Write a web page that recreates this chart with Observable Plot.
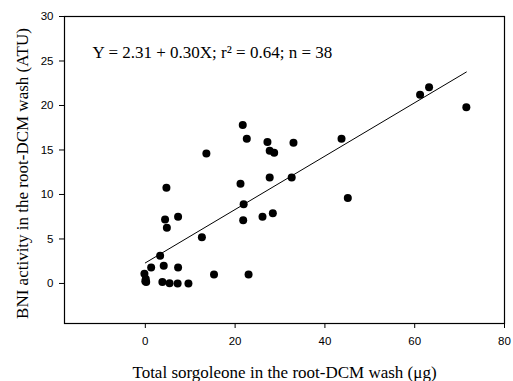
<!DOCTYPE html>
<html><head><meta charset="utf-8">
<script src="https://cdn.jsdelivr.net/npm/d3@7"></script>
<script src="https://cdn.jsdelivr.net/npm/@observablehq/plot@0.6"></script>
<style>body{margin:0;background:#fff}</style>
</head><body><div id="chart"></div>
<script>
const sorgoleone = [13.6, 21.7, 22.6, 27.2, 33.0, 27.7, 28.7, 4.7, 21.2, 27.7, 32.6, 21.9, 4.4, 7.3, 4.8, 21.8, 26.1, 28.4, 12.6, 3.3, 1.3, 4.1, 7.3, -0.2, 0.0, 0.1, 0.2, 3.8, 5.4, 7.2, 9.6, 15.3, 23.0, 43.7, 45.1, 61.2, 63.2, 71.5];
const bni = [14.6, 17.8, 16.25, 15.9, 15.8, 14.9, 14.7, 10.75, 11.2, 11.9, 11.9, 8.9, 7.2, 7.5, 6.25, 7.1, 7.5, 7.9, 5.2, 3.1, 1.8, 2.0, 1.8, 1.1, 0.26, 0.5, 0.15, 0.15, 0.03, 0.0, 0.0, 1.0, 1.0, 16.25, 9.6, 21.2, 22.05, 19.8];
const xTicks = [0, 20, 40, 60, 80];
const yTicks = [0, 5, 10, 15, 20, 25, 30];
const intercept = 2.31, slope = 0.30;
const fitRange = [0, 71.5];
const equationLabel = "Y = 2.31 + 0.30X; r² = 0.64; n = 38";
const xTitle = "Total sorgoleone in the root-DCM wash (μg)";
const yTitle = "BNI activity in the root-DCM wash (ATU)";

const points = sorgoleone.map((x, i) => ({x, y: bni[i]}));
const fit = fitRange.map(x => ({x, y: intercept + slope * x}));

const serif = "'Liberation Serif', 'Times New Roman', serif";
const sans = "'Liberation Sans', Arial, sans-serif";

const chart = Plot.plot({
  width: 513, height: 381,
  marginLeft: 64, marginRight: 9, marginTop: 16, marginBottom: 58,
  style: {background: "white", color: "black", fontFamily: sans, fontSize: "11.5px"},
  x: {domain: [-18, 80]},
  y: {domain: [-4.5, 30]},
  marks: [
    Plot.axisX({ticks: xTicks, tickSize: 5, tickPadding: 8, label: null, fontSize: 11.5}),
    Plot.axisY({ticks: yTicks, tickSize: 5, tickPadding: 6, label: null, fontSize: 11.5}),
    Plot.frame({stroke: "black", strokeWidth: 1.2}),
    Plot.line(fit, {x: "x", y: "y", stroke: "black", strokeWidth: 1}),
    Plot.dot(points, {x: "x", y: "y", r: 4, fill: "black", stroke: "none"}),
    Plot.text([equationLabel], {frameAnchor: "top-left", dx: 28, dy: 36, text: d => d, textAnchor: "start", lineAnchor: "middle", fontFamily: serif, fontSize: 17}),
    Plot.text([xTitle], {frameAnchor: "bottom", dy: 49, text: d => d, textAnchor: "middle", lineAnchor: "middle", fontFamily: serif, fontSize: 17}),
    Plot.text([yTitle], {frameAnchor: "left", dx: -42, dy: 3.5, rotate: -90, text: d => d, textAnchor: "middle", lineAnchor: "middle", fontFamily: serif, fontSize: 17})
  ]
});
document.getElementById("chart").appendChild(chart);
</script>
</body></html>
